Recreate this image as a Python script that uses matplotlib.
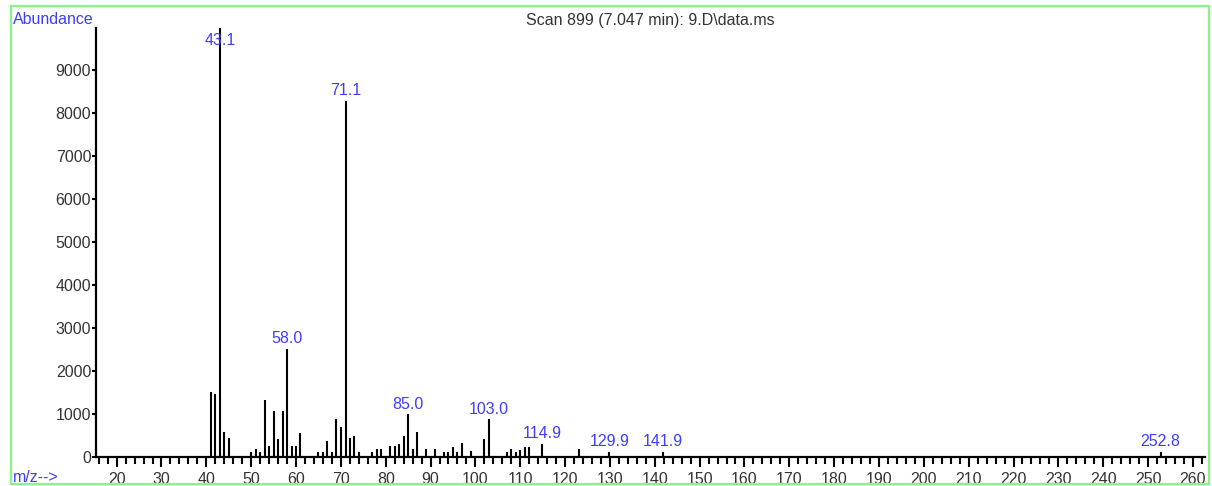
import matplotlib.pyplot as plt
from matplotlib.patches import Rectangle
from matplotlib.ticker import MultipleLocator

# mass spectrum of scan 899
mz = [41, 42, 43.1, 44, 45, 50, 51, 52, 53, 54, 55, 56, 57, 58.0, 59, 60, 61,
      65, 66, 67, 68, 69, 70, 71.1, 72, 73, 74, 77, 78, 79, 81, 82, 83, 84,
      85.0, 86, 87, 89, 91, 93, 94, 95, 96, 97, 99, 102, 103.0, 107, 108, 109,
      110, 111, 112, 114.9, 123, 129.9, 141.9, 252.8]
abundance = [1520, 1460, 9980, 570, 440, 110, 180, 110, 1330, 250, 1080, 430,
             1080, 2520, 250, 250, 560, 120, 120, 370, 110, 880, 690, 8280,
             440, 500, 120, 120, 190, 190, 250, 250, 300, 490, 990, 190, 570,
             190, 180, 125, 125, 240, 125, 320, 140, 430, 875, 125, 180, 125,
             165, 240, 240, 300, 180, 110, 110, 120]
labelled = [43.1, 58.0, 71.1, 85.0, 103.0, 114.9, 129.9, 141.9, 252.8]

title = "Scan 899 (7.047 min): 9.D\\data.ms"
blue = '#3f3cff'
grey = '#333333'

plt.rcParams['font.family'] = ['Liberation Sans', 'DejaVu Sans']
fig = plt.figure(figsize=(12.12, 4.86), dpi=100)
ax = fig.add_axes([96 / 1212, 1 - 457 / 486, (1205 - 96) / 1212, (457 - 28) / 486])

ymax = 9980
ax.vlines(mz, 0, abundance, color='black', lw=1.5)

for m in labelled:
    h = abundance[mz.index(m)]
    if h > 0.9 * ymax:
        # no room above the base peak, put its label just below the top
        ax.annotate(f'{m:.1f}', (m, ymax), xytext=(0, -3.5), textcoords='offset points',
                    ha='center', va='top', color=blue, fontsize=11.5)
    else:
        ax.annotate(f'{m:.1f}', (m, h), xytext=(0, 2), textcoords='offset points',
                    ha='center', va='bottom', color=blue, fontsize=11.5)

ax.set_xlim(15.4, 262.7)
ax.set_ylim(0, ymax)
ax.xaxis.set_major_locator(MultipleLocator(10))
ax.xaxis.set_minor_locator(MultipleLocator(2))
ax.set_yticks(range(0, 10000, 1000))

for s in ['top', 'right']:
    ax.spines[s].set_visible(False)
for s in ['left', 'bottom']:
    ax.spines[s].set_linewidth(1.6)
ax.tick_params(axis='x', which='major', length=7.5, width=1.5, pad=3, labelsize=11.5, labelcolor=grey)
ax.tick_params(axis='x', which='minor', length=5, width=1.5)
ax.tick_params(axis='y', length=3, width=1.5, pad=0.5, labelsize=11.5, labelcolor=grey)

fig.text(650 / 1212, 1 - 21 / 486, title, ha='center', va='center', color=grey, fontsize=11.5)
fig.text(13 / 1212, 1 - 19 / 486, 'Abundance', ha='left', va='center', color=blue, fontsize=11.5)
fig.text(13 / 1212, 1 - 477 / 486, 'm/z-->', ha='left', va='center', color=blue, fontsize=11.5)

fig.patches.append(Rectangle((11 / 1212, 1 - 484 / 486), (1209 - 11) / 1212, (484 - 6) / 486,
                             transform=fig.transFigure, fill=False, edgecolor='#88f588', lw=1.6))

fig.savefig('out.png', dpi=100)
